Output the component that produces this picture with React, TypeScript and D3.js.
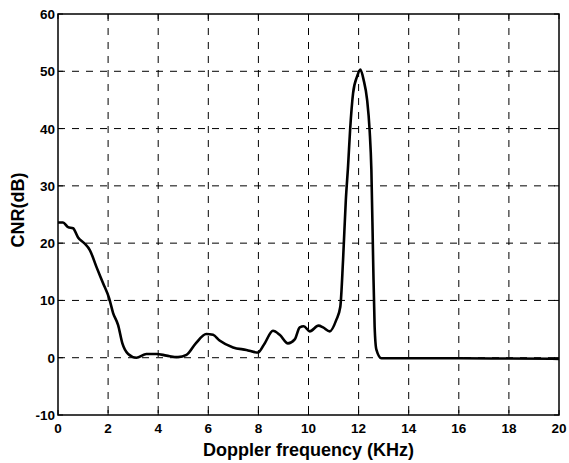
import React from "react";
import * as d3 from "d3";

const freq = [0, 0.2, 0.4, 0.6, 0.8, 1.07, 1.27, 1.53, 1.8, 2.04, 2.2, 2.4, 2.57, 2.8, 3.13, 3.53, 3.93, 4.33, 4.79, 5.13, 5.5, 5.92, 6.19, 6.45, 6.99, 7.52, 7.98, 8.25, 8.58, 8.85, 9.18, 9.45, 9.65, 9.81, 10.05, 10.4, 10.58, 10.85, 11.11, 11.27, 11.38, 11.49, 11.58, 11.66, 11.78, 11.94, 12.07, 12.2, 12.34, 12.44, 12.51, 12.58, 12.64, 12.71, 12.91, 14, 16, 18, 20];
const cnr = [23.6, 23.6, 22.8, 22.6, 21.0, 19.9, 18.8, 15.9, 13.0, 10.4, 7.8, 5.7, 2.5, 0.66, 0.0, 0.66, 0.66, 0.37, 0.1, 0.5, 2.5, 4.15, 4.0, 3.0, 1.8, 1.36, 0.9, 2.5, 4.7, 4.0, 2.5, 3.2, 5.3, 5.5, 4.6, 5.6, 5.3, 4.6, 6.6, 8.9, 17.1, 27.5, 33.5, 39.7, 46.2, 49.1, 50.3, 48.5, 45.0, 39.7, 32.8, 17.1, 5.4, 1.4, -0.1, -0.1, -0.1, -0.15, -0.2];

const xTicks = [0, 2, 4, 6, 8, 10, 12, 14, 16, 18, 20];
const yTicks = [-10, 0, 10, 20, 30, 40, 50, 60];

export default function App() {
  const W = 569, H = 463;
  const left = 58, right = 559, top = 14, bottom = 415;
  const x = d3.scaleLinear().domain([0, 20]).range([left, right]);
  const y = d3.scaleLinear().domain([-10, 60]).range([bottom, top]);
  const pts = freq.map((f, i) => [f, cnr[i]] as [number, number]);
  const line = d3.line<[number, number]>().x(d => x(d[0])).y(d => y(d[1])).curve(d3.curveMonotoneX);
  const font = "Arial, 'Liberation Sans', Helvetica, sans-serif";
  return (
    <svg width={W} height={H} style={{ position: "absolute", left: 0, top: 0, background: "#fff" }}>
      <rect x={0} y={0} width={W} height={H} fill="#fff" />
      {xTicks.slice(1, -1).map(t => (
        <line key={"gx" + t} x1={x(t)} x2={x(t)} y1={top} y2={bottom} stroke="#000" strokeWidth={1} strokeDasharray="7,7" />
      ))}
      {yTicks.slice(1, -1).map(t => (
        <line key={"gy" + t} x1={left} x2={right} y1={y(t)} y2={y(t)} stroke="#000" strokeWidth={1} strokeDasharray="7,7" />
      ))}
      {xTicks.map(t => (
        <g key={"tx" + t}>
          <line x1={x(t)} x2={x(t)} y1={bottom} y2={bottom - 5} stroke="#000" />
          <line x1={x(t)} x2={x(t)} y1={top} y2={top + 5} stroke="#000" />
          <text x={x(t)} y={433} textAnchor="middle" fontFamily={font} fontSize={13.5} fontWeight="bold">{t}</text>
        </g>
      ))}
      {yTicks.map(t => (
        <g key={"ty" + t}>
          <line x1={left} x2={left + 5} y1={y(t)} y2={y(t)} stroke="#000" />
          <line x1={right} x2={right - 5} y1={y(t)} y2={y(t)} stroke="#000" />
          <text x={left - 3} y={y(t) + 5} textAnchor="end" fontFamily={font} fontSize={13.5} fontWeight="bold">{t}</text>
        </g>
      ))}
      <rect x={left} y={top} width={right - left} height={bottom - top} fill="none" stroke="#000" strokeWidth={1.5} />
      <path d={line(pts) || ""} fill="none" stroke="#000" strokeWidth={2.6} strokeLinejoin="round" />
      <text x={(left + right) / 2} y={456} textAnchor="middle" fontFamily={font} fontSize={18} fontWeight="bold">Doppler frequency (KHz)</text>
      <text transform={`translate(24, 210) rotate(-90)`} textAnchor="middle" fontFamily={font} fontSize={18} fontWeight="bold">CNR(dB)</text>
    </svg>
  );
}
